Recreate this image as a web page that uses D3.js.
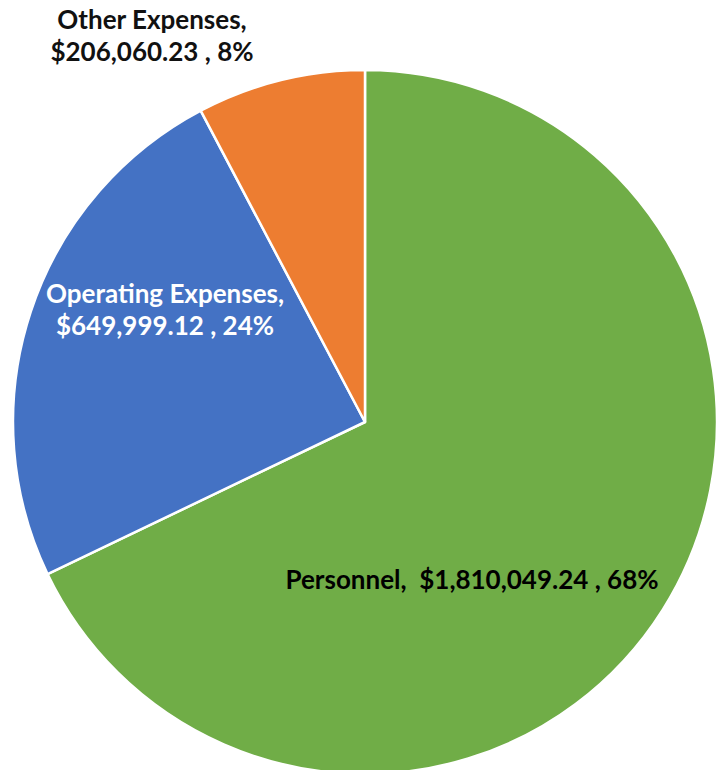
<!DOCTYPE html>
<html>
<head>
<meta charset="utf-8">
<script src="https://cdn.jsdelivr.net/npm/d3@7"></script>
<style>
  html, body { margin: 0; padding: 0; background: #fff; }
  svg { display: block; }
  .lbl { font-family: Lato, "Open Sans", sans-serif; font-weight: 700; font-size: 26px; white-space: pre; }
</style>
</head>
<body>
<svg id="chart" width="722" height="770"></svg>
<script>
// Expense breakdown (clockwise from 12 o'clock)
const categories = ['Personnel', 'Operating Expenses', 'Other Expenses'];
const amounts = [1810049.24, 649999.12, 206060.23];
const percentLabels = ['68%', '24%', '8%'];
const sliceColors = ['#70AD47', '#4472C4', '#ED7D31'];

const W = 722, H = 770;
const cx = 365, cy = 422, R = 352;

const fmt = d3.format(',.2f');

const svg = d3.select('#chart');
const g = svg.append('g').attr('transform', `translate(${cx},${cy})`);

const pie = d3.pie().sort(null).value(d => d.value);
const arc = d3.arc().innerRadius(0).outerRadius(R);

const data = categories.map((c, i) => ({ name: c, value: amounts[i], pct: percentLabels[i], color: sliceColors[i] }));
const arcs = pie(data);

g.selectAll('path.slice').data(arcs).join('path')
    .attr('class', 'slice')
    .attr('d', arc)
    .attr('fill', d => d.data.color)
    .attr('stroke', '#fff')
    .attr('stroke-width', 2.5)
    .attr('stroke-linejoin', 'round');

// Label layout (Excel "best fit"), positions relative to chart origin
const labelLayout = {
    'Personnel':          { x: 472, y: [589], fill: '#000', lines: d => [`${d.name},  $${fmt(d.value)} , ${d.pct}`] },
    'Operating Expenses': { x: 165, y: [303, 335], fill: '#fff', lines: d => [`${d.name},`, `$${fmt(d.value)} , ${d.pct}`] },
    'Other Expenses':     { x: 152, y: [29, 61], fill: '#111', lines: d => [`${d.name},`, `$${fmt(d.value)} , ${d.pct}`] }
};

const labels = svg.selectAll('text.lbl').data(data).join('text')
    .attr('class', 'lbl')
    .attr('text-anchor', 'middle')
    .attr('fill', d => labelLayout[d.name].fill);

labels.each(function(d) {
    const lay = labelLayout[d.name];
    d3.select(this).selectAll('tspan').data(lay.lines(d)).join('tspan')
        .attr('x', lay.x)
        .attr('y', (t, i) => lay.y[i])
        .text(t => t);
});
</script>
</body>
</html>
